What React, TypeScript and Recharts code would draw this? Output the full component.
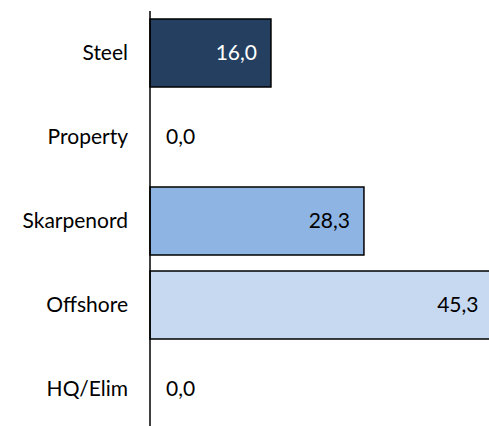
import React from "react";
import { BarChart, Bar, XAxis, YAxis, Cell, LabelList } from "recharts";

const categories = ["Steel", "Property", "Skarpenord", "Offshore", "HQ/Elim"];
const values = [16.0, 0.0, 28.3, 45.3, 0.0];
const barColors = ["#243F60", "#243F60", "#8EB4E3", "#C6D9F1", "#C6D9F1"];
const labelColors = ["#FFFFFF", "#000000", "#000000", "#000000", "#000000"];

const data = categories.map((name, i) => ({ name, value: values[i] }));

const FONT = "Lato, 'Open Sans', sans-serif";
const FS = 21;
const AXIS_X = 150;

const fmt = (v: number) => v.toFixed(1).replace(".", ",");

// value labels for non-zero bars, inside the bar end
const renderLabel = (props: any) => {
  const { x, y, width, height, value, index } = props;
  if (!value) return null;
  return (
    <text x={x + width - 14} y={y + height / 2} dy="0.35em" textAnchor="end" fontSize={FS} fontFamily={FONT} fill={labelColors[index]}>
      {fmt(value)}
    </text>
  );
};

// category tick; zero values get their label drawn next to the axis
const CategoryTick = (props: any) => {
  const { x, y, payload, index } = props;
  const v = values[index];
  return (
    <g>
      <text x={x} y={y} dy="0.35em" textAnchor="end" fontSize={FS} fontFamily={FONT} fill="#000">
        {payload.value}
      </text>
      {v === 0 && (
        <text x={AXIS_X + 16} y={y} dy="0.35em" textAnchor="start" fontSize={FS} fontFamily={FONT} fill="#000">
          {fmt(v)}
        </text>
      )}
    </g>
  );
};

export default function App() {
  return (
    <div style={{ position: "absolute", left: 0, top: 0, width: 489, height: 426, overflow: "hidden", background: "#fff" }}>
      <BarChart
        width={528}
        height={431}
        data={data}
        layout="vertical"
        margin={{ top: 11, right: 0, bottom: 0, left: 0 }}
        barCategoryGap={8}
      >
        <XAxis type="number" domain={[0, 50]} hide />
        <YAxis
          type="category"
          dataKey="name"
          width={AXIS_X}
          axisLine={{ stroke: "#000", strokeWidth: 1.5 }}
          tickLine={false}
          tickMargin={16}
          tick={<CategoryTick />}
        />
        <Bar dataKey="value" stroke="#000" strokeWidth={1.5} isAnimationActive={false}>
          {data.map((_, i) => (
            <Cell key={i} fill={barColors[i]} />
          ))}
          <LabelList dataKey="value" content={renderLabel} />
        </Bar>
      </BarChart>
    </div>
  );
}
